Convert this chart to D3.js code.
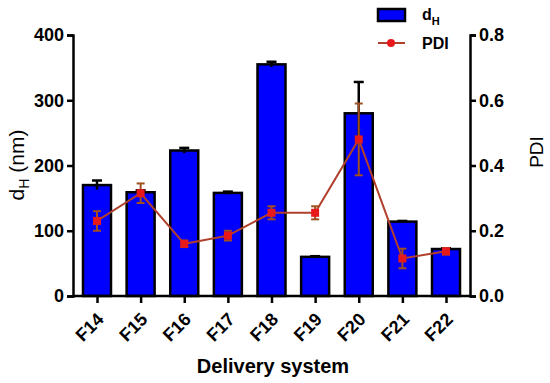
<!DOCTYPE html>
<html lang="en">
<head>
<meta charset="UTF-8">
<title>dH and PDI</title>
<script src="https://d3js.org/d3.v7.min.js"></script>
<style>
body{margin:0; background:#fff;}
svg text{font-family:"Liberation Sans", Arial, sans-serif; font-weight:bold;}
svg text.ttl{font-weight:normal;}
</style>
</head>
<body>
<div id="chart"></div>
<script>
// data
var systems = ["F14","F15","F16","F17","F18","F19","F20","F21","F22"];
var dh      = [170, 159, 223, 158, 355, 60, 280, 114, 72];
var dhErr   = [7, 3, 4, 2, 4, 1, 48, 1, 1];
var pdi     = [0.23, 0.315, 0.16, 0.185, 0.255, 0.255, 0.48, 0.115, 0.137];
var pdiErr  = [0.03, 0.03, 0.01, 0.015, 0.02, 0.02, 0.11, 0.03, 0.01];
var leftTicks  = [0, 100, 200, 300, 400];
var rightTicks = [0, 0.2, 0.4, 0.6, 0.8];

var w = 550, h = 383;
var x0 = 73, x1 = 470, yTop = 35, yBot = 296;

var svg = d3.select("#chart").append("svg")
	.attr("width", w)
	.attr("height", h);

var x = d3.scalePoint().domain(systems).range([x0, x1]).padding(0.55);
var barW = 28;
var yL = d3.scaleLinear().domain([0, 400]).range([yBot, yTop]);
var yR = d3.scaleLinear().domain([0, 0.8]).range([yBot, yTop]);

// bars
svg.selectAll("rect.bar")
	.data(dh)
	.enter()
	.append("rect")
	.attr("class", "bar")
	.attr("x", function(d, i){ return x(systems[i]) - barW / 2; })
	.attr("y", function(d){ return yL(d); })
	.attr("width", barW)
	.attr("height", function(d){ return yBot - yL(d); })
	.attr("fill", "#0000ff")
	.attr("stroke", "#000")
	.attr("stroke-width", 2.5);

// bar error bars (upward only)
var be = svg.append("g").attr("stroke", "#000").attr("stroke-width", 2.5);
dh.forEach(function(d, i){
	var cx = x(systems[i]);
	be.append("line").attr("x1", cx).attr("x2", cx)
		.attr("y1", yL(d - dhErr[i])).attr("y2", yL(d + dhErr[i]));
	be.append("line").attr("x1", cx - 5).attr("x2", cx + 5)
		.attr("y1", yL(d + dhErr[i])).attr("y2", yL(d + dhErr[i]));
});

// PDI line
var lineCol = "#b0402c";
var line = d3.line()
	.x(function(d, i){ return x(systems[i]); })
	.y(function(d){ return yR(d); });
svg.append("path")
	.datum(pdi)
	.attr("d", line)
	.attr("fill", "none")
	.attr("stroke", lineCol)
	.attr("stroke-width", 2);

var pe = svg.append("g").attr("stroke", "#a05020").attr("stroke-width", 2);
pdi.forEach(function(d, i){
	var cx = x(systems[i]);
	var lo = yR(d - pdiErr[i]), hi = yR(d + pdiErr[i]);
	pe.append("line").attr("x1", cx).attr("x2", cx).attr("y1", lo).attr("y2", hi);
	pe.append("line").attr("x1", cx - 4).attr("x2", cx + 4).attr("y1", lo).attr("y2", lo);
	pe.append("line").attr("x1", cx - 4).attr("x2", cx + 4).attr("y1", hi).attr("y2", hi);
});

svg.selectAll("rect.pt")
	.data(pdi)
	.enter()
	.append("rect")
	.attr("class", "pt")
	.attr("x", function(d, i){ return x(systems[i]) - 4; })
	.attr("y", function(d){ return yR(d) - 4; })
	.attr("width", 8)
	.attr("height", 8)
	.attr("fill", "#e8191a");

// axes
function styleAxis(g){
	g.selectAll("path.domain").attr("stroke", "#000").attr("stroke-width", 2.5);
	g.selectAll(".tick line").attr("stroke", "#000").attr("stroke-width", 2.5);
	g.selectAll(".tick text").attr("fill", "#000").style("font-size", "18px");
}

var gl = svg.append("g").attr("transform", "translate(" + x0 + ",0)")
	.call(d3.axisLeft(yL).tickValues(leftTicks).tickSize(6).tickSizeOuter(6).tickPadding(3));
styleAxis(gl);

var gr = svg.append("g").attr("transform", "translate(" + x1 + ",0)")
	.call(d3.axisRight(yR).tickValues(rightTicks).tickFormat(d3.format(".1f")).tickSize(6).tickSizeOuter(6).tickPadding(3));
styleAxis(gr);

var gx = svg.append("g").attr("transform", "translate(0," + yBot + ")")
	.call(d3.axisBottom(x).tickSize(7).tickSizeOuter(0));
styleAxis(gx);
gx.select("path.domain").attr("d", "M" + x0 + ",0H" + x1);
gx.selectAll(".tick text")
	.attr("text-anchor", "end")
	.attr("x", 0).attr("y", 0)
	.attr("dy", "0.35em")
	.attr("transform", "translate(3,20) rotate(-45)");

// axis titles
var lt = svg.append("text")
	.attr("class", "ttl")
	.attr("transform", "translate(24,165) rotate(-90)")
	.attr("text-anchor", "middle")
	.style("font-size", "21px");
lt.append("tspan").text("d");
lt.append("tspan").attr("dy", 5).style("font-size", "14px").text("H");
lt.append("tspan").attr("dy", -5).text(" (nm)");

svg.append("text")
	.attr("class", "ttl")
	.attr("transform", "translate(543,152) rotate(-90)")
	.attr("text-anchor", "middle")
	.style("font-size", "19px")
	.text("PDI");

svg.append("text")
	.attr("x", 273).attr("y", 373)
	.attr("text-anchor", "middle")
	.style("font-size", "20px")
	.text("Delivery system");

// legend
svg.append("rect")
	.attr("x", 378).attr("y", 9).attr("width", 27).attr("height", 12)
	.attr("fill", "#0000ff").attr("stroke", "#000").attr("stroke-width", 2.5);
var l1 = svg.append("text").attr("x", 422).attr("y", 20).style("font-size", "16px");
l1.append("tspan").text("d");
l1.append("tspan").attr("dy", 5).style("font-size", "11px").text("H");

svg.append("line")
	.attr("x1", 378).attr("x2", 405).attr("y1", 43).attr("y2", 43)
	.attr("stroke", lineCol).attr("stroke-width", 2);
svg.append("circle")
	.attr("cx", 391).attr("cy", 43).attr("r", 4)
	.attr("fill", "#e8191a");
svg.append("text").attr("x", 422).attr("y", 49).style("font-size", "16px").text("PDI");
</script>
</body>
</html>
